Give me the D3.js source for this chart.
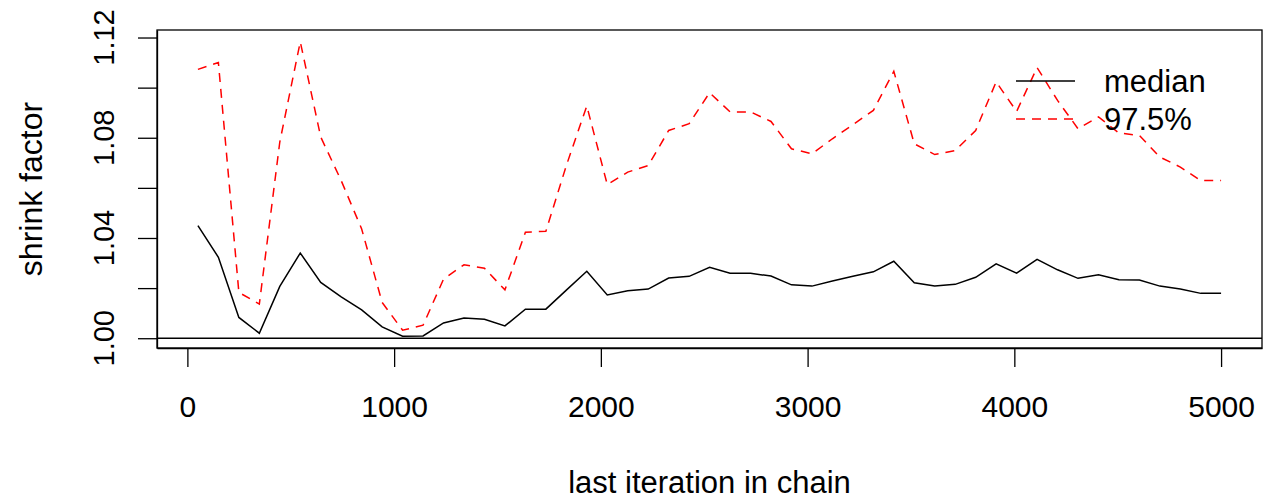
<!DOCTYPE html>
<html lang="en">

<head>
    <meta charset="UTF-8">
    <title>Gelman shrink factor</title>
    <script src="https://d3js.org/d3.v7.min.js"></script>
    <style>
        body {
            margin: 0;
            background: #fff;
        }

        text {
            font-family: "Liberation Sans", Arial, sans-serif;
            fill: #000;
        }
    </style>
</head>

<body>
    <svg id="chart" width="1263" height="499"></svg>
    <script>
        // last iteration of each bin
        let iterations = [51, 150, 249, 348, 447, 546, 645, 744, 843, 942,
            1041, 1140, 1239, 1338, 1437, 1536, 1635, 1734, 1833, 1932,
            2031, 2130, 2229, 2328, 2427, 2526, 2625, 2724, 2823, 2922,
            3021, 3120, 3219, 3318, 3417, 3516, 3615, 3714, 3813, 3912,
            4011, 4110, 4209, 4308, 4407, 4506, 4605, 4704, 4803, 4902, 5000]

        let median = [1.0449, 1.0323, 1.0083, 1.0020, 1.0207, 1.0340, 1.0223, 1.0165, 1.0113, 1.0045,
            1.0008, 1.0009, 1.0061, 1.0081, 1.0076, 1.0049, 1.0116, 1.0116, 1.0192, 1.0267,
            1.0173, 1.0189, 1.0196, 1.0240, 1.0247, 1.0283, 1.0259, 1.0259, 1.0248, 1.0213,
            1.0208, 1.0228, 1.0247, 1.0265, 1.0307, 1.0221, 1.0208, 1.0215, 1.0243, 1.0297,
            1.0260, 1.0315, 1.0273, 1.0239, 1.0253, 1.0233, 1.0232, 1.0208, 1.0196, 1.0179, 1.0179]

        let upper = [1.1073, 1.1100, 1.0183, 1.0136, 1.0783, 1.1183, 1.0803, 1.0629, 1.0436, 1.0143,
            1.0032, 1.0052, 1.0236, 1.0293, 1.0279, 1.0193, 1.0423, 1.0427, 1.0689, 1.0927,
            1.0613, 1.0663, 1.0689, 1.0829, 1.0856, 1.0980, 1.0903, 1.0903, 1.0865, 1.0756,
            1.0736, 1.0796, 1.0852, 1.0909, 1.1065, 1.0776, 1.0733, 1.0749, 1.0829, 1.1023,
            1.0905, 1.1080, 1.0949, 1.0836, 1.0883, 1.0819, 1.0809, 1.0723, 1.0683, 1.0629, 1.0629]

        let xTicks = [0, 1000, 2000, 3000, 4000, 5000]
        let yTicks = [1.00, 1.02, 1.04, 1.06, 1.08, 1.10, 1.12]
        let yLabels = [1.00, 1.04, 1.08, 1.12]
        let legendNames = ["median", "97.5%"]

        let box = { left: 157, right: 1262, top: 30, bottom: 348 }
        let svg = d3.select("#chart")

        // R style: extend the data range by 4% on each side
        function padded(ext) {
            let d = (ext[1] - ext[0]) * 0.04
            return [ext[0] - d, ext[1] + d]
        }

        let xScale = d3.scaleLinear()
            .domain(padded(d3.extent(iterations)))
            .range([box.left, box.right])
        let yScale = d3.scaleLinear()
            .domain(padded(d3.extent(median.concat(upper))))
            .range([box.bottom, box.top])

        let line = d3.line()
            .x(function (d, i) { return xScale(iterations[i]) })
            .y(function (d) { return yScale(d) })

        // reference line at 1
        svg.append("line")
            .attr("x1", box.left).attr("x2", box.right)
            .attr("y1", yScale(1)).attr("y2", yScale(1))
            .attr("stroke", "#000").attr("stroke-width", 1.3)

        svg.append("path")
            .attr("d", line(median))
            .attr("fill", "none")
            .attr("stroke", "#000")
            .attr("stroke-width", 1.5)

        svg.append("path")
            .attr("d", line(upper))
            .attr("fill", "none")
            .attr("stroke", "#ff0000")
            .attr("stroke-width", 1.5)
            .attr("stroke-dasharray", "9,7")

        // plot box
        svg.append("rect")
            .attr("x", box.left).attr("y", box.top)
            .attr("width", box.right - box.left)
            .attr("height", box.bottom - box.top)
            .attr("fill", "none")
            .attr("stroke", "#000")
            .attr("stroke-width", 1.3)

        // x axis
        let xAxis = d3.axisBottom(xScale)
            .tickValues(xTicks)
            .tickSize(19)
            .tickPadding(29)
            .tickSizeOuter(0)
            .tickFormat(d3.format("d"))
        let gx = svg.append("g")
            .attr("transform", `translate(0,${box.bottom})`)
            .call(xAxis)
        gx.select(".domain").attr("stroke-width", 1.3)
        gx.selectAll(".tick line").attr("stroke-width", 1.3)
        gx.selectAll(".tick text")
            .attr("font-size", 30)
            .attr("font-family", "Liberation Sans, Arial, sans-serif")

        // y axis
        let yAxis = d3.axisLeft(yScale)
            .tickValues(yTicks)
            .tickSize(19)
            .tickSizeOuter(0)
            .tickFormat("")
        let gy = svg.append("g")
            .attr("transform", `translate(${box.left},0)`)
            .call(yAxis)
        gy.select(".domain").attr("stroke-width", 1.3)
        gy.selectAll(".tick line").attr("stroke-width", 1.3)

        svg.selectAll(".ylab")
            .data(yLabels)
            .enter()
            .append("text")
            .attr("class", "ylab")
            .attr("transform", function (d) { return `translate(114,${yScale(d)}) rotate(-90)` })
            .attr("text-anchor", "middle")
            .attr("font-size", 29)
            .text(function (d) { return d3.format(".2f")(d) })

        // axis titles
        svg.append("text")
            .attr("x", (box.left + box.right) / 2)
            .attr("y", 493)
            .attr("text-anchor", "middle")
            .attr("font-size", 31)
            .text("last iteration in chain")

        svg.append("text")
            .attr("transform", `translate(42,${(box.top + box.bottom) / 2}) rotate(-90)`)
            .attr("text-anchor", "middle")
            .attr("font-size", 32)
            .text("shrink factor")

        // legend
        let legend = svg.append("g")
        legendNames.forEach(function (name, i) {
            let y = 81 + i * 38
            legend.append("line")
                .attr("x1", 1016).attr("x2", 1075)
                .attr("y1", y).attr("y2", y)
                .attr("stroke", i === 0 ? "#000" : "#ff0000")
                .attr("stroke-width", 1.5)
                .attr("stroke-dasharray", i === 0 ? null : "9,7")
            legend.append("text")
                .attr("x", 1104)
                .attr("y", y + 11)
                .attr("font-size", 31)
                .text(name)
        })
    </script>
</body>

</html>
